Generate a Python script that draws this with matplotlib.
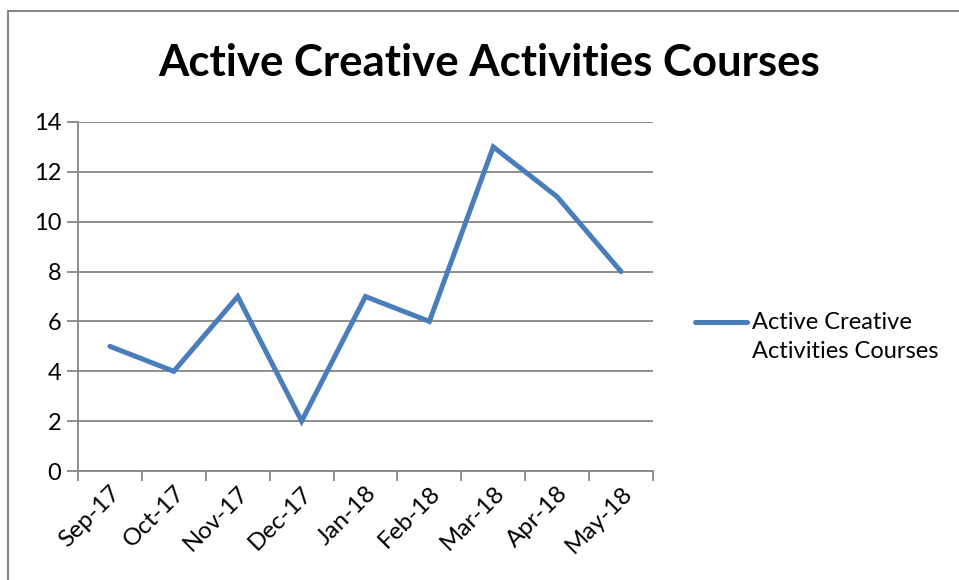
import matplotlib.pyplot as plt
from matplotlib.lines import Line2D

months = ["Sep-17", "Oct-17", "Nov-17", "Dec-17", "Jan-18",
          "Feb-18", "Mar-18", "Apr-18", "May-18"]
courses = [5, 4, 7, 2, 7, 6, 13, 11, 8]
series_name = "Active Creative\nActivities Courses"
chart_title = "Active Creative Activities Courses"

plt.rcParams['font.family'] = ['Lato', 'DejaVu Sans']
grey = '#868686'
blue = '#4A7EBB'

fig = plt.figure(figsize=(9.59, 5.80), dpi=100)
ax = fig.add_axes([78 / 959, 1 - 471 / 580, (653 - 78) / 959, (471 - 122) / 580])

x = range(len(months))
ax.plot(x, courses, color=blue, linewidth=3.6, solid_capstyle='round',
        solid_joinstyle='miter', zorder=3)

ax.set_xlim(-0.5, len(months) - 0.5)
ax.set_ylim(0, 14)
ax.set_yticks(range(0, 15, 2))
ax.grid(axis='y', color=grey, linewidth=1.3)
ax.set_axisbelow(True)

# tick marks sit between categories, labels at category centres
ax.set_xticks([i - 0.5 for i in range(len(months) + 1)])
ax.set_xticklabels([])
ax.set_xticks(list(x), minor=True)
ax.set_xticklabels(months, minor=True, rotation=45, ha='right', va='top',
                   rotation_mode='anchor', fontsize=17.5)
ax.tick_params(axis='x', which='minor', length=0, pad=8)
ax.tick_params(axis='x', which='major', length=7, width=1.3, color=grey)
ax.tick_params(axis='y', length=8, width=1.3, color=grey, labelsize=17, pad=4)

for side in ['top', 'right']:
    ax.spines[side].set_visible(False)
for side in ['left', 'bottom']:
    ax.spines[side].set_color(grey)
    ax.spines[side].set_linewidth(1.3)

fig.text(489 / 959, 1 - 63 / 580, chart_title, ha='center', va='center',
         fontsize=31.5, fontweight='bold')

# legend: swatch level with the first line of the series name
leg_y = 1 - 322 / 580
fig.add_artist(Line2D([695 / 959, 747 / 959], [leg_y, leg_y], color=blue,
                      linewidth=3.6, solid_capstyle='round',
                      transform=fig.transFigure))
fig.text(752 / 959, 1 - 312 / 580, series_name, ha='left', va='top',
         fontsize=17, linespacing=1.5)

# chart frame
fig.add_artist(Line2D([8 / 959, 8 / 959], [0, 1 - 11 / 580],
                      color=grey, linewidth=1.5, transform=fig.transFigure))
fig.add_artist(Line2D([8 / 959, 1], [1 - 11 / 580, 1 - 11 / 580],
                      color=grey, linewidth=1.5, transform=fig.transFigure))

fig.savefig('out.png', dpi=100)
